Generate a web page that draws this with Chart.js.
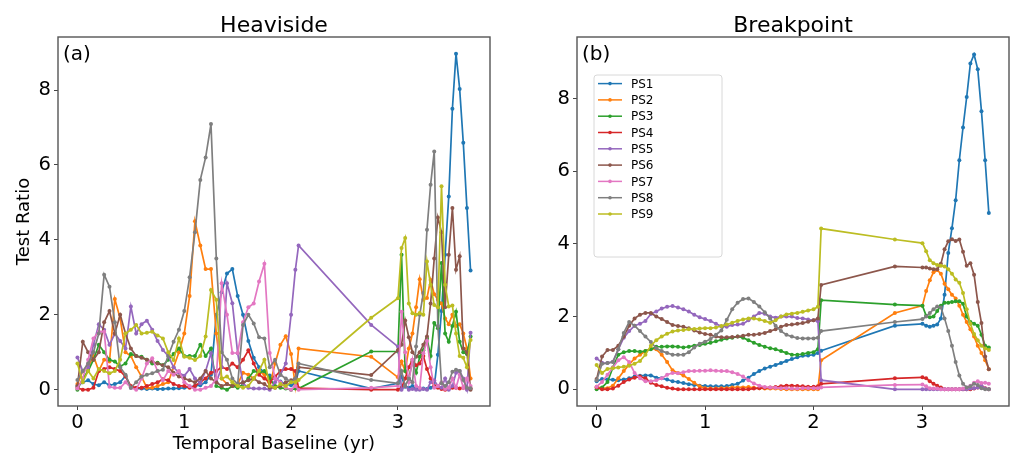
<!DOCTYPE html>
<html lang="en">
<head>
<meta charset="UTF-8">
<title>Test Ratio - Heaviside / Breakpoint</title>
<script src="https://cdn.jsdelivr.net/npm/chart.js"></script>
<style>
  html, body { margin: 0; padding: 0; background: #fff; }
  .panel { position: absolute; top: 0; width: 506px; height: 455px; }
  #left { left: 0; }
  #right { left: 506px; }
</style>
</head>
<body>
<div class="panel" id="left"><canvas id="heaviside"></canvas></div>
<div class="panel" id="right"><canvas id="breakpoint"></canvas></div>

<script>
const names = ['PS1', 'PS2', 'PS3', 'PS4', 'PS5', 'PS6', 'PS7', 'PS8', 'PS9'];
const colors = ['#1f77b4', '#ff7f0e', '#2ca02c', '#d62728', '#9467bd', '#8c564b', '#e377c2', '#7f7f7f', '#bcbd22'];
const xTicks = [0, 1, 2, 3];
const yTicks = [0, 2, 4, 6, 8];

// epochs (yr) for each panel
const epochsA = [0,0.05,0.1,0.15,0.2,0.25,0.3,0.35,0.4,0.45,0.5,0.55,0.6,0.65,0.7,0.75,0.8,0.85,0.9,0.95,1.0,
  1.05,1.1,1.15,1.2,1.25,1.3,1.35,1.4,1.45,1.5,1.55,1.6,1.65,1.7,1.75,1.8,1.85,1.9,1.95,2.0,2.04,2.07,2.75,
  3.0,3.034,3.068,3.102,3.136,3.17,3.204,3.238,3.272,3.306,3.34,3.374,3.408,3.442,3.476,3.51,3.544,3.578,3.612,3.646,3.68];
const epochsB = [0,0.05,0.1,0.15,0.2,0.25,0.3,0.35,0.4,0.45,0.5,0.55,0.6,0.65,0.7,0.75,0.8,0.85,0.9,0.95,1.0,
  1.05,1.1,1.15,1.2,1.25,1.3,1.35,1.4,1.45,1.5,1.55,1.6,1.65,1.7,1.75,1.8,1.85,1.9,1.95,2.0,2.04,2.07,2.75,
  3.004,3.038,3.072,3.106,3.14,3.174,3.208,3.242,3.276,3.31,3.344,3.378,3.412,3.446,3.48,3.514,3.548,3.582,3.616];

// (a) Heaviside
const heavPS1 = [0.1,0.2,0.25,0.15,0.12,0.2,0.12,0.15,0.2,0.37,0.05,0.03,0.03,0.02,0.03,0.02,0.02,0.03,0.03,0.04,0.05,
  0.07,0.1,0.12,0.2,0.4,2.0,2.6,3.1,3.22,2.5,2.0,1.3,0.85,0.6,0.45,0.38,0.3,0.22,0.14,0.12,0.17,0.5,0.03,
  0.17,0.35,0.08,0.05,0.1,0.03,0.02,0.03,0.02,0.05,0.08,0.93,2.1,3.6,5.16,7.5,8.97,8.03,6.59,4.85,3.18];
const heavPS2 = [0.15,0.5,0.6,0.9,0.5,0.8,0.75,2.42,1.9,1.0,0.9,0.6,0.35,0.05,0.05,0.1,0.15,0.2,0.6,1.0,1.5,
  2.5,4.5,3.85,3.22,3.22,1.5,0.3,0.15,0.1,0.15,0.45,0.4,0.3,0.5,0.4,0.1,0.7,1.2,1.43,0.95,0.1,1.1,0.88,
  0.33,0.75,0.5,1.1,1.5,2.2,2.95,2.4,2.45,2.93,2.55,2.4,2.3,1.9,1.75,2.0,1.7,1.75,1.5,1.1,0.3];
const heavPS3 = [0.0,0.3,0.5,0.8,1.2,1.0,0.8,0.75,0.62,0.7,0.95,0.9,0.88,0.8,0.7,0.72,0.65,0.8,0.95,1.1,0.9,
  0.9,0.9,1.2,0.9,1.1,0.1,0.05,0.0,0.1,0.05,0.15,0.3,0.5,0.45,0.5,0.3,0.1,0.05,0.03,0.0,0.03,0.03,1.02,
  1.02,3.6,0.5,0.3,0.75,0.45,0.88,1.05,1.37,0.9,1.78,1.64,3.38,1.5,1.28,1.7,2.08,1.28,1.0,0.95,1.42];
const heavPS4 = [0.05,0.0,0.0,0.05,0.5,0.55,0.6,0.55,0.5,0.35,0.1,0.05,0.05,0.1,0.15,0.2,0.28,0.25,0.15,0.1,0.1,
  0.05,0.1,0.2,0.3,0.45,0.5,0.6,0.55,0.7,0.6,0.8,1.05,0.7,0.4,0.3,0.2,0.35,0.5,0.55,0.55,0.5,0.04,0.0,
  0.0,0.05,0.3,0.6,0.8,0.65,0.7,0.9,0.55,0.3,0.1,0.05,0.02,0.0,0.03,0.05,0.05,0.03,0.05,0.03,0.03];
const heavPS5 = [0.86,0.5,0.6,1.2,1.75,1.6,1.2,1.5,1.3,1.1,2.22,1.5,1.75,1.84,1.6,1.3,1.06,0.9,0.6,0.45,0.37,
  0.55,0.3,0.17,0.5,0.97,0.2,0.6,2.84,2.31,0.97,0.17,0.05,0.03,0.03,0.03,0.0,0.2,0.4,0.7,2.0,3.2,3.85,1.73,
  1.15,0.0,0.1,0.0,0.02,0.0,0.0,0.02,0.0,0.2,0.25,0.1,0.05,0.3,0.0,0.1,0.45,0.5,0.3,0.0,1.52];
const heavPS6 = [0.1,1.28,1.0,0.8,1.0,1.8,2.1,1.5,2.0,1.5,1.1,0.9,0.85,0.8,0.75,0.7,0.65,0.6,0.45,0.35,0.3,
  0.25,0.2,0.3,0.5,0.3,0.2,0.1,0.15,0.1,0.15,0.2,0.25,0.3,0.2,0.15,0.05,0.05,0.1,0.2,0.25,0.3,0.6,0.39,
  1.06,1.2,1.85,1.4,1.0,0.88,1.0,1.2,1.42,2.3,3.5,4.6,4.2,2.2,3.6,4.85,3.2,3.56,1.1,1.0,0.0];
const heavPS7 = [0.03,0.3,0.8,1.37,1.55,1.55,0.08,0.05,0.05,0.2,0.05,0.0,0.3,0.7,0.84,0.5,0.25,0.5,0.4,0.5,0.2,
  0.1,0.0,0.0,0.05,0.1,0.3,2.84,2.0,0.98,0.98,1.8,2.2,2.3,2.89,3.36,0.98,0.3,0.2,0.05,0.0,0.1,0.0,0.05,
  0.1,2.08,1.0,0.2,0.8,0.1,0.05,0.97,1.3,0.6,0.05,0.1,0.2,0.02,0.05,0.3,0.05,0.4,0.05,0.3,0.1];
const heavPS8 = [0.26,0.5,0.7,1.0,1.5,3.07,2.75,1.8,0.6,0.4,0.05,0.2,0.35,0.4,0.44,0.5,0.53,0.9,1.28,1.6,2.1,
  3.0,4.2,5.6,6.2,7.09,3.5,1.0,0.8,0.3,0.15,1.73,2.0,1.77,1.4,1.37,0.6,0.8,0.4,0.3,0.2,0.3,0.7,0.26,
  0.17,0.5,0.1,0.3,0.2,1.15,2.0,2.58,4.27,5.47,6.36,1.7,0.17,0.1,0.2,0.48,0.53,0.5,0.26,0.05,0.04];
const heavPS9 = [0.7,0.2,0.5,0.3,0.55,0.5,0.44,0.5,0.8,1.5,1.6,1.73,1.5,1.52,1.55,1.45,1.37,1.0,0.79,1.37,0.88,
  0.85,0.79,0.9,1.42,2.66,2.4,0.3,0.35,0.2,0.1,0.05,0.1,0.3,0.5,0.8,0.1,0.05,0.15,0.1,0.2,0.2,0.26,1.92,
  2.44,3.78,4.05,2.3,2.04,2.0,2.05,2.0,3.42,2.8,2.26,2.2,5.43,2.8,2.22,2.25,1.5,0.9,0.85,0.6,1.33];

// (b) Breakpoint
const brkPS1 = [0.22,0.28,0.27,0.26,0.25,0.27,0.3,0.35,0.37,0.38,0.38,0.32,0.3,0.27,0.22,0.2,0.17,0.14,0.12,0.1,0.09,
  0.08,0.08,0.08,0.09,0.12,0.15,0.24,0.32,0.42,0.5,0.57,0.62,0.67,0.72,0.78,0.83,0.88,0.92,0.93,0.95,1.0,1.06,1.75,
  1.8,1.75,1.72,1.75,1.78,1.95,2.6,3.75,4.43,5.2,6.3,7.2,8.04,8.96,9.21,8.8,7.65,6.3,4.85];
const brkPS2 = [0.07,0.03,0.03,0.1,0.3,0.5,0.68,0.85,0.95,1.05,1.12,1.1,0.95,0.75,0.52,0.45,0.38,0.28,0.18,0.08,0.03,
  0.02,0.02,0.03,0.03,0.05,0.05,0.05,0.06,0.04,0.03,0.02,0.02,0.02,0.01,0.0,0.0,0.0,0.0,0.0,0.0,0.0,0.8,2.1,
  2.3,2.7,3.0,3.22,3.28,3.18,2.9,2.75,2.6,2.5,2.3,2.05,1.85,1.65,1.45,1.2,1.0,0.8,0.55];
const brkPS3 = [0.0,0.05,0.2,0.6,0.95,1.02,1.05,1.05,1.03,1.05,1.1,1.17,1.17,1.18,1.18,1.17,1.15,1.17,1.2,1.22,1.25,
  1.28,1.32,1.36,1.4,1.42,1.45,1.42,1.35,1.28,1.22,1.17,1.13,1.1,1.05,1.0,0.95,0.95,0.97,1.0,1.02,1.1,2.45,2.33,
  2.3,2.02,1.98,2.0,2.15,2.3,2.38,2.38,2.4,2.42,2.42,2.35,2.0,1.85,1.8,1.75,1.5,1.2,1.15];
const brkPS4 = [0.05,0.0,0.0,0.02,0.1,0.2,0.27,0.32,0.35,0.3,0.18,0.12,0.08,0.04,0.02,0.0,0.0,0.0,0.0,0.0,0.0,
  0.0,0.0,0.0,0.0,0.0,0.0,0.0,0.0,0.02,0.03,0.04,0.05,0.06,0.08,0.1,0.1,0.09,0.08,0.07,0.07,0.08,0.15,0.3,
  0.33,0.3,0.22,0.15,0.1,0.05,0.0,0.0,0.0,0.0,0.0,0.0,0.0,0.0,0.02,0.05,0.08,0.03,0.0];
const brkPS5 = [0.85,0.73,0.72,0.76,1.1,1.42,1.6,1.75,1.8,1.88,2.07,2.14,2.22,2.27,2.29,2.25,2.2,2.14,2.05,1.98,1.93,
  1.88,1.8,1.73,1.72,1.77,1.78,1.8,1.9,2.0,2.1,2.08,2.0,1.97,2.0,2.0,2.0,1.96,1.95,1.92,1.9,1.87,0.25,0.0,
  0.0,0.0,0.0,0.0,0.0,0.0,0.0,0.0,0.0,0.0,0.0,0.0,0.0,0.02,0.03,0.05,0.1,0.02,0.0];
const brkPS6 = [0.28,0.9,1.08,1.08,1.2,1.45,1.75,1.95,2.05,2.1,2.1,2.0,1.93,1.85,1.77,1.74,1.72,1.68,1.62,1.56,1.52,
  1.5,1.45,1.43,1.43,1.44,1.45,1.47,1.5,1.5,1.52,1.55,1.6,1.65,1.72,1.77,1.78,1.8,1.82,1.86,1.9,1.95,2.87,3.38,
  3.35,3.35,3.32,3.3,3.3,3.45,3.85,4.07,4.13,4.08,4.12,3.78,3.4,3.47,3.15,2.4,1.82,0.9,0.55];
const brkPS7 = [0.07,0.2,0.4,0.6,0.8,0.88,0.75,0.45,0.3,0.22,0.22,0.25,0.3,0.4,0.45,0.44,0.47,0.5,0.5,0.51,0.51,
  0.52,0.51,0.5,0.5,0.47,0.42,0.35,0.25,0.16,0.1,0.06,0.05,0.04,0.03,0.03,0.02,0.02,0.03,0.03,0.03,0.03,0.05,0.12,
  0.13,0.08,0.03,0.02,0.02,0.0,0.0,0.0,0.0,0.0,0.0,0.02,0.05,0.1,0.18,0.22,0.17,0.18,0.15];
const brkPS8 = [0.25,0.7,0.72,0.75,1.1,1.55,1.85,1.75,1.6,1.45,1.3,1.13,1.05,1.0,0.95,0.95,0.95,1.02,1.15,1.25,1.31,
  1.38,1.5,1.62,1.91,2.2,2.38,2.48,2.5,2.4,2.28,2.12,1.95,1.75,1.6,1.5,1.45,1.41,1.4,1.4,1.4,1.42,1.6,1.85,
  1.93,2.0,2.1,2.2,2.28,2.25,1.95,1.6,1.2,0.75,0.38,0.15,0.05,0.08,0.15,0.12,0.03,0.0,0.0];
const brkPS9 = [0.67,0.45,0.56,0.58,0.6,0.62,0.65,0.7,0.78,0.95,1.2,1.35,1.45,1.53,1.59,1.62,1.63,1.65,1.66,1.67,1.68,
  1.68,1.7,1.74,1.78,1.83,1.88,1.92,1.95,1.95,1.92,1.88,1.83,1.9,2.0,2.06,2.08,2.1,2.13,2.17,2.2,2.27,4.42,4.12,
  4.02,3.8,3.55,3.47,3.42,3.4,3.38,3.3,3.18,3.02,2.93,2.65,2.2,1.8,1.52,1.35,1.2,1.12,1.08];

const FONT = '"DejaVu Sans", sans-serif';

function buildDatasets(xs, series) {
  return series.map((ys, i) => ({
    label: names[i],
    data: ys.map((y, j) => ({ x: xs[j], y: y })),
    borderColor: colors[i],
    backgroundColor: colors[i],
    borderWidth: 1.7,
    pointRadius: 2,
    pointBorderWidth: 0,
    pointHoverRadius: 2,
    tension: 0,
    order: series.length - i   // PS9 drawn on top, like matplotlib
  }));
}

// frame, panel title, (a)/(b) tag and the in-plot legend
const decor = {
  id: 'decor',
  afterDraw(chart, args, o) {
    const { ctx, chartArea: a } = chart;
    ctx.save();
    ctx.strokeStyle = '#555';
    ctx.lineWidth = 1.4;
    ctx.strokeRect(a.left, a.top, a.right - a.left, a.bottom - a.top);

    ctx.fillStyle = '#000';
    ctx.textBaseline = 'alphabetic';
    ctx.textAlign = 'center';
    ctx.font = '22px ' + FONT;
    ctx.fillText(o.title, (a.left + a.right) / 2, 32);
    ctx.textAlign = 'left';
    ctx.font = '20px ' + FONT;
    ctx.fillText(o.tag, a.left + 5, 60);

    if (o.legend) {
      const bx = a.left + 17, by = a.top + 38;
      ctx.fillStyle = 'rgba(255,255,255,0.85)';
      ctx.strokeStyle = '#d8d8d8';
      ctx.lineWidth = 1;
      ctx.beginPath();
      ctx.roundRect(bx, by, 128, 182, 3);
      ctx.fill();
      ctx.stroke();
      ctx.font = '12px ' + FONT;
      ctx.textBaseline = 'middle';
      names.forEach((n, i) => {
        const y = a.top + 46.6 + 16.3 * i;
        ctx.strokeStyle = colors[i];
        ctx.lineWidth = 1.5;
        ctx.beginPath();
        ctx.moveTo(a.left + 21, y);
        ctx.lineTo(a.left + 45, y);
        ctx.stroke();
        ctx.fillStyle = colors[i];
        ctx.beginPath();
        ctx.arc(a.left + 33, y, 1.8, 0, Math.PI * 2);
        ctx.fill();
        ctx.fillStyle = '#000';
        ctx.fillText(n, a.left + 54, y + 1);
      });
    }
    ctx.restore();
  }
};

function makeChart(id, xs, series, cfg) {
  const tickGrid = { display: true, drawOnChartArea: false, drawTicks: true, tickLength: 4, color: '#444' };
  new Chart(document.getElementById(id), {
    type: 'line',
    data: { datasets: buildDatasets(xs, series) },
    plugins: [decor],
    options: {
      responsive: true,
      maintainAspectRatio: false,
      animation: false,
      devicePixelRatio: 1,
      layout: { padding: { top: 37, right: cfg.padRight, bottom: 0, left: 0 } },
      plugins: {
        legend: { display: false },
        tooltip: { enabled: false },
        decor: { title: cfg.title, tag: cfg.tag, legend: cfg.legend }
      },
      scales: {
        x: {
          type: 'linear',
          min: cfg.xMin, max: cfg.xMax,
          afterBuildTicks: ax => { ax.ticks = xTicks.map(v => ({ value: v })); },
          afterFit: ax => { ax.height = 49; },
          grid: tickGrid,
          border: { display: false },
          ticks: { font: { family: FONT, size: 19.5 }, color: '#000', padding: 1, maxRotation: 0 },
          title: {
            display: !!cfg.xTitle, text: cfg.xTitle || '',
            font: { family: FONT, size: 18 }, color: '#000', padding: { top: 0, bottom: 0 }
          }
        },
        y: {
          min: cfg.yMin, max: cfg.yMax,
          afterBuildTicks: ax => { ax.ticks = yTicks.map(v => ({ value: v })); },
          afterFit: ax => { ax.width = cfg.yWidth; },
          grid: tickGrid,
          border: { display: false },
          ticks: { font: { family: FONT, size: 19.5 }, color: '#000', padding: 3 },
          title: {
            display: !!cfg.yTitle, text: cfg.yTitle || '',
            font: { family: FONT, size: 18 }, color: '#000', padding: { top: 14, bottom: 0 }
          }
        }
      }
    }
  });
}

makeChart('heaviside', epochsA,
  [heavPS1, heavPS2, heavPS3, heavPS4, heavPS5, heavPS6, heavPS7, heavPS8, heavPS9],
  { title: 'Heaviside', tag: '(a)', legend: false, padRight: 16, yWidth: 58,
    xMin: -0.182, xMax: 3.862, yMin: -0.435, yMax: 9.415,
    xTitle: 'Temporal Baseline (yr)', yTitle: 'Test Ratio' });

makeChart('breakpoint', epochsB,
  [brkPS1, brkPS2, brkPS3, brkPS4, brkPS5, brkPS6, brkPS7, brkPS8, brkPS9],
  { title: 'Breakpoint', tag: '(b)', legend: true, padRight: 3, yWidth: 71,
    xMin: -0.181, xMax: 3.802, yMin: -0.46, yMax: 9.69 });
</script>
</body>
</html>
